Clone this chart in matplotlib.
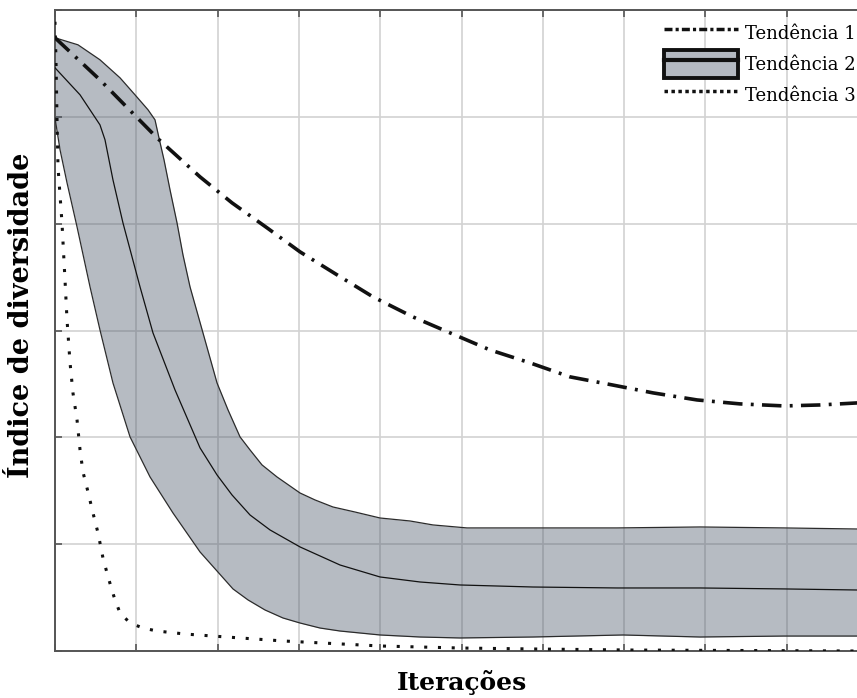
import matplotlib
matplotlib.use('Agg')
import matplotlib.pyplot as plt
from matplotlib.lines import Line2D
from matplotlib.patches import Patch
import numpy as np

plt.rcParams['font.family'] = ['DejaVu Serif']

# Tendencia 1 (dash-dot)
t1_x = [0, 0.553, 1.255, 1.784, 2.177, 2.608, 3.014, 3.469, 3.911, 4.403, 4.859,
        5.351, 5.843, 6.335, 6.851, 7.356, 7.897, 8.426, 8.967, 9.410, 9.865, 10.0]
t1_y = [5.740, 5.346, 4.803, 4.438, 4.195, 3.961, 3.736, 3.521, 3.315, 3.127, 2.978,
        2.818, 2.697, 2.566, 2.491, 2.416, 2.350, 2.313, 2.294, 2.303, 2.322, 2.33]

# Tendencia 2 (band: upper, mean, lower)
up_x = [0, 0.283, 0.553, 0.800, 0.984, 1.144, 1.230, 1.279, 1.341, 1.415, 1.501,
        1.574, 1.661, 1.820, 1.993, 2.128, 2.276, 2.399, 2.546, 2.731, 3.014, 3.198,
        3.419, 3.690, 3.998, 4.367, 4.649, 5.068, 5.879, 6.913, 7.934, 8.967, 9.865, 10.0]
up_y = [5.740, 5.674, 5.534, 5.365, 5.206, 5.066, 4.972, 4.803, 4.597, 4.316, 4.007,
        3.708, 3.408, 2.978, 2.509, 2.257, 2.004, 1.882, 1.742, 1.629, 1.479, 1.414,
        1.348, 1.301, 1.245, 1.217, 1.180, 1.152, 1.152, 1.152, 1.161, 1.152, 1.142, 1.142]

mid_x = [0, 0.308, 0.553, 0.615, 0.713, 0.836, 1.046, 1.205, 1.476, 1.784, 1.993,
         2.177, 2.399, 2.645, 3.014, 3.506, 3.998, 4.490, 4.982, 5.879, 6.913, 7.934,
         8.967, 9.865, 10.0]
mid_y = [5.459, 5.206, 4.925, 4.785, 4.410, 4.007, 3.408, 2.978, 2.444, 1.901, 1.648,
         1.461, 1.273, 1.133, 0.974, 0.805, 0.693, 0.646, 0.618, 0.599, 0.590, 0.590,
         0.581, 0.571, 0.571]

low_x = [0, 0.062, 0.148, 0.271, 0.431, 0.553, 0.713, 0.923, 1.169, 1.451, 1.784,
         2.189, 2.374, 2.583, 2.804, 3.014, 3.260, 3.506, 3.998, 4.490, 4.982, 5.879,
         6.986, 7.934, 8.967, 9.865, 10.0]
low_y = [4.991, 4.691, 4.382, 3.970, 3.408, 3.006, 2.509, 2.004, 1.629, 1.292, 0.927,
         0.581, 0.478, 0.384, 0.309, 0.262, 0.215, 0.187, 0.150, 0.131, 0.122, 0.131,
         0.150, 0.131, 0.140, 0.140, 0.140]

# Tendencia 3 (dotted)
t3_x = [0.0, 0.012, 0.025, 0.037, 0.086, 0.123, 0.148, 0.185, 0.221, 0.271, 0.308,
        0.344, 0.406, 0.467, 0.529, 0.590, 0.640, 0.689, 0.738, 0.800, 0.923, 1.082,
        1.255, 1.599, 1.943, 2.804, 3.998, 4.982, 5.879, 7.110, 9.865, 10.0]
t3_y = [5.890, 5.534, 4.972, 4.532, 4.007, 3.474, 3.099, 2.697, 2.416, 2.163, 1.882,
        1.676, 1.489, 1.292, 1.105, 0.871, 0.730, 0.599, 0.478, 0.356, 0.262, 0.215,
        0.187, 0.159, 0.140, 0.094, 0.047, 0.028, 0.019, 0.009, 0.0, 0.0]

labels = ['Tendência 1', 'Tendência 2', 'Tendência 3']

fig = plt.figure(figsize=(8.57, 6.98), dpi=100)
ax = fig.add_axes([55/857, 47/698, 813/857, 641/698])

band_x = np.linspace(0, 10, 800)
band_up = np.interp(band_x, up_x, up_y)
band_low = np.interp(band_x, low_x, low_y)
ax.fill_between(band_x, band_low, band_up, color='#4a5568', alpha=0.4, lw=0, zorder=2)
ax.plot(up_x, up_y, color='#2b2b2b', lw=0.9, zorder=3)
ax.plot(low_x, low_y, color='#2b2b2b', lw=0.9, zorder=3)
ax.plot(mid_x, mid_y, color='#111111', lw=0.9, zorder=3)

ax.plot(t1_x, t1_y, color='#111111', lw=2.6, dashes=(5.4, 2.3, 0.8, 2.3), zorder=4)
ax.plot(t3_x, t3_y, color='#111111', lw=2.2, dashes=(1, 3.5), zorder=4)

ax.set_xlim(0, 10)
ax.set_ylim(0, 6)
ax.set_xticks(np.arange(0, 11, 1))
ax.set_yticks(np.arange(0, 7, 1))
ax.set_xticklabels([])
ax.set_yticklabels([])
ax.grid(True, color='#d2d2d2', lw=1.2, zorder=1)
ax.set_axisbelow(True)
ax.tick_params(direction='in', top=True, right=True, length=5, width=1.2, color='#555555')
for s in ax.spines.values():
    s.set_color('#555555')
    s.set_linewidth(1.4)

ax.set_xlabel('Iterações', fontsize=18, fontweight='bold', labelpad=10)
ax.set_ylabel('Índice de diversidade', fontsize=19.5, fontweight='bold')
ax.yaxis.set_label_coords(-0.025, 0.524)

h1 = Line2D([], [], color='#111111', lw=2.5, dashes=(2.3, 0.9, 0.9, 0.9))
h2 = (Patch(facecolor='#b4b9c1', edgecolor='#111111', lw=2.8),
      Line2D([], [], color='#111111', lw=3.0))
h3 = Line2D([], [], color='#111111', lw=2.5, dashes=(1, 1))
fig.legend([h1, h2, h3], labels, loc='upper right', bbox_to_anchor=(1.013, 0.99),
           frameon=False, fontsize=13, handlelength=4.1, handleheight=2.0,
           handletextpad=0.4, labelspacing=0.15, borderpad=0.2)

fig.savefig('out.png', dpi=100)
